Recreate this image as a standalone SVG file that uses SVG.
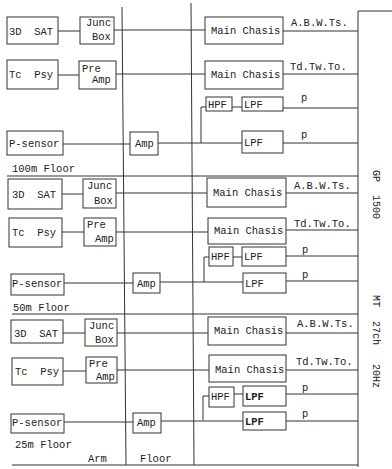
<svg xmlns="http://www.w3.org/2000/svg" width="392" height="469" viewBox="0 0 392 469">
<style>
rect{fill:#fff;stroke:#333;stroke-width:1}
line,polyline{stroke:#333;stroke-width:1;fill:none}
text{font-family:"Liberation Mono","DejaVu Sans Mono",monospace;font-size:10.5px;fill:#222}
.s{font-size:10px}
.b{font-weight:bold}
</style>
<rect x="0" y="0" width="392" height="469" style="fill:#fff;stroke:none"/>
<g id="connectors">
<line x1="122" y1="7" x2="126" y2="465"/>
<line x1="191" y1="3" x2="194" y2="465"/>
<line x1="358" y1="11" x2="358" y2="467"/>
<line x1="358" y1="11" x2="392" y2="11"/>
<line x1="7" y1="176" x2="358" y2="176"/>
<line x1="12" y1="314" x2="358" y2="314"/>
<line x1="12" y1="465" x2="358" y2="465"/>
<line x1="58" y1="31" x2="80" y2="31"/>
<line x1="114" y1="30" x2="205" y2="30"/>
<line x1="283" y1="31" x2="358" y2="31"/>
<line x1="58" y1="75" x2="79" y2="75"/>
<line x1="116" y1="74" x2="205" y2="74"/>
<line x1="283" y1="74" x2="358" y2="74"/>
<line x1="232" y1="107" x2="242" y2="107"/>
<line x1="283" y1="108" x2="358" y2="108"/>
<line x1="63" y1="144" x2="130" y2="144"/>
<line x1="158" y1="143" x2="242" y2="143"/>
<line x1="283" y1="143" x2="358" y2="143"/>
<polyline points="206,107 201,107 201,143"/>
<line x1="62" y1="194" x2="83" y2="194"/>
<line x1="116" y1="193" x2="207" y2="193"/>
<line x1="286" y1="193" x2="358" y2="193"/>
<line x1="62" y1="232" x2="84" y2="232"/>
<line x1="116" y1="232" x2="208" y2="232"/>
<line x1="286" y1="230" x2="358" y2="230"/>
<line x1="233" y1="257" x2="242" y2="257"/>
<line x1="286" y1="256" x2="358" y2="256"/>
<line x1="64" y1="283" x2="133" y2="283"/>
<line x1="160" y1="282" x2="243" y2="282"/>
<line x1="286" y1="281" x2="358" y2="281"/>
<polyline points="209,257 204,257 204,282"/>
<line x1="63" y1="333" x2="85" y2="333"/>
<line x1="117" y1="333" x2="208" y2="333"/>
<line x1="286" y1="333" x2="358" y2="333"/>
<line x1="63" y1="371" x2="86" y2="371"/>
<line x1="117" y1="370" x2="209" y2="370"/>
<line x1="286" y1="370" x2="358" y2="370"/>
<line x1="234" y1="394" x2="243" y2="394"/>
<line x1="286" y1="394" x2="358" y2="394"/>
<line x1="64" y1="422" x2="133" y2="422"/>
<line x1="161" y1="421" x2="243" y2="421"/>
<line x1="286" y1="421" x2="358" y2="421"/>
<polyline points="209,396 203,396 203,420"/>
</g>
<g id="labels">
<text x="291" y="26">A.B.W.Ts.</text>
<text x="290" y="70">Td.Tw.To.</text>
<text x="301" y="101">p</text>
<text x="301" y="138">p</text>
<text x="12" y="172">100m Floor</text>
<text x="294" y="189">A.B.W.Ts.</text>
<text x="294" y="227">Td.Tw.To.</text>
<text x="302" y="253">p</text>
<text x="302" y="278">p</text>
<text x="13" y="311">50m Floor</text>
<text x="297" y="327">A.B.W.Ts.</text>
<text x="296" y="365">Td.Tw.To.</text>
<text x="302" y="391">p</text>
<text x="302" y="417">p</text>
<text x="15" y="448">25m Floor</text>
<text x="88" y="462">Arm</text>
<text x="140" y="462">Floor</text>
<text class="s" transform="translate(373,170) rotate(90)">GP</text>
<text class="s" transform="translate(373,195) rotate(90)">1500</text>
<text class="s" transform="translate(373,295) rotate(90)">MT</text>
<text class="s" transform="translate(373,321) rotate(90)">27ch</text>
<text class="s" transform="translate(373,364) rotate(90)">20Hz</text>
</g>
<g id="sat1"><rect x="7" y="17" width="51" height="27"/><text x="9" y="35" xml:space="preserve">3D  SAT</text></g>
<g id="junc1"><rect x="80" y="17" width="34" height="27"/><text x="86" y="26">Junc</text><text x="92" y="40">Box</text></g>
<g id="main1a"><rect x="205" y="17" width="78" height="27"/><text x="211" y="34">Main Chasis</text></g>
<g id="tc1"><rect x="7" y="60" width="51" height="29"/><text x="9" y="78" xml:space="preserve">Tc  Psy</text></g>
<g id="pre1"><rect x="79" y="61" width="37" height="28"/><text x="82" y="72">Pre</text><text x="92" y="83">Amp</text></g>
<g id="main1b"><rect x="205" y="61" width="78" height="28"/><text x="211" y="78">Main Chasis</text></g>
<g id="hpf1"><rect x="206" y="97" width="26" height="14"/><text x="208" y="108">HPF</text></g>
<g id="lpf1a"><rect x="242" y="97" width="41" height="14"/><text x="244" y="108">LPF</text></g>
<g id="psens1"><rect x="7" y="131" width="56" height="24"/><text x="9" y="147">P-sensor</text></g>
<g id="amp1"><rect x="130" y="132" width="28" height="23"/><text x="135" y="147">Amp</text></g>
<g id="lpf1b"><rect x="242" y="131" width="41" height="22"/><text x="244" y="146">LPF</text></g>
<g id="sat2"><rect x="8" y="179" width="54" height="30"/><text x="12" y="198" xml:space="preserve">3D  SAT</text></g>
<g id="junc2"><rect x="83" y="179" width="33" height="29"/><text x="87" y="189">Junc</text><text x="94" y="204">Box</text></g>
<g id="main2a"><rect x="207" y="178" width="79" height="29"/><text x="213" y="196">Main Chasis</text></g>
<g id="tc2"><rect x="9" y="218" width="53" height="29"/><text x="12" y="236" xml:space="preserve">Tc  Psy</text></g>
<g id="pre2"><rect x="84" y="218" width="32" height="28"/><text x="87" y="228">Pre</text><text x="95" y="242">Amp</text></g>
<g id="main2b"><rect x="208" y="218" width="78" height="26"/><text x="214" y="234">Main Chasis</text></g>
<g id="hpf2"><rect x="209" y="247" width="24" height="19"/><text x="211" y="260">HPF</text></g>
<g id="lpf2a"><rect x="242" y="247" width="44" height="19"/><text x="244" y="260">LPF</text></g>
<g id="psens2"><rect x="11" y="274" width="53" height="21"/><text x="12" y="287">P-sensor</text></g>
<g id="amp2"><rect x="133" y="273" width="27" height="20"/><text x="137" y="287">Amp</text></g>
<g id="lpf2b"><rect x="243" y="273" width="43" height="20"/><text x="245" y="287">LPF</text></g>
<g id="sat3"><rect x="11" y="320" width="52" height="23"/><text x="14" y="337" xml:space="preserve">3D  SAT</text></g>
<g id="junc3"><rect x="85" y="319" width="32" height="27"/><text x="89" y="329">Junc</text><text x="95" y="343">Box</text></g>
<g id="main3a"><rect x="208" y="317" width="78" height="28"/><text x="214" y="334">Main Chasis</text></g>
<g id="tc3"><rect x="12" y="358" width="51" height="27"/><text x="15" y="375" xml:space="preserve">Tc  Psy</text></g>
<g id="pre3"><rect x="86" y="357" width="31" height="26"/><text x="89" y="367">Pre</text><text x="96" y="380">Amp</text></g>
<g id="main3b"><rect x="209" y="355" width="77" height="27"/><text x="215" y="373">Main Chasis</text></g>
<g id="hpf3"><rect x="209" y="387" width="25" height="20"/><text x="211" y="400">HPF</text></g>
<g id="lpf3a"><rect x="243" y="386" width="43" height="20"/><text class="b" x="245" y="400">LPF</text></g>
<g id="psens3"><rect x="11" y="414" width="53" height="19"/><text x="12" y="426">P-sensor</text></g>
<g id="amp3"><rect x="133" y="413" width="28" height="20"/><text x="137" y="426">Amp</text></g>
<g id="lpf3b"><rect x="243" y="412" width="43" height="18"/><text class="b" x="245" y="425">LPF</text></g>
</svg>
